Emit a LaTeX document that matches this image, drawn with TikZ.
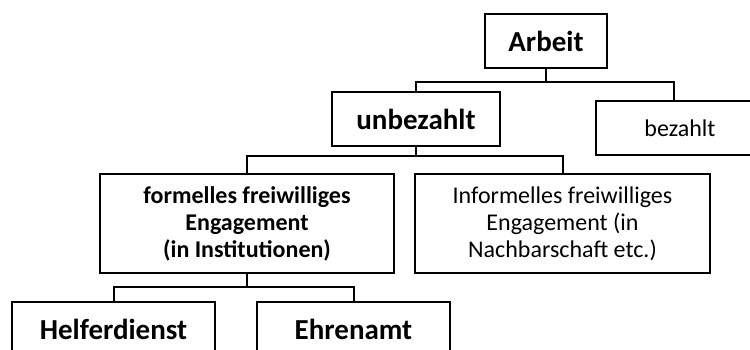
\documentclass[tikz,border=0pt]{standalone}
\usepackage{fontspec}
\setmainfont{Carlito}
\begin{document}
\begin{tikzpicture}[x=0.5pt, y=-0.5pt, line width=1pt,
	box/.style={draw, inner sep=0pt, align=center, minimum height=27pt},
	big/.style={font=\bfseries\fontsize{14.5}{16}\selectfont},
	mid/.style={font=\fontsize{12}{13.5}\selectfont},
	midbold/.style={font=\bfseries\fontsize{12}{13.5}\selectfont}]
				\useasboundingbox (0,0) rectangle (750,349);
				\clip (0,0) rectangle (750,349);
				\node[box, big, minimum width=61pt] (arbeit) at (546,41) {Arbeit};
				\node[box, big, minimum width=84pt] (unbezahlt) at (416,119) {unbezahlt};
				\node[box, mid, minimum width=84pt] (bezahlt) at (680,128) {bezahlt};
				\node[box, midbold, minimum width=147pt, minimum height=49.5pt] (formell) at (247,223.5) {formelles freiwilliges\\Engagement\\(in Institutionen)};
				\node[box, mid, minimum width=147.5pt, minimum height=49.5pt] (informell) at (562.5,223.5) {Informelles freiwilliges\\Engagement (in\\Nachbarschaft etc.)};
				\node[box, big, minimum width=101.5pt] (helfer) at (113.5,329) {Helferdienst};
				\node[box, big, minimum width=96.5pt] (ehrenamt) at (353.5,329) {Ehrenamt};
				\draw (arbeit.south) -- ++(0,13) -| ([xshift=-3pt]bezahlt.north);
				\draw (arbeit.south) -- ++(0,13) -| (unbezahlt.north);
				\draw (unbezahlt.south) -- ++(0,9) -| (formell.north);
				\draw (unbezahlt.south) -- ++(0,9) -| (informell.north);
				\draw (formell.south) -- ++(0,13) -| (helfer.north);
				\draw (formell.south) -- ++(0,13) -| (ehrenamt.north);
			\end{tikzpicture}
\end{document}
